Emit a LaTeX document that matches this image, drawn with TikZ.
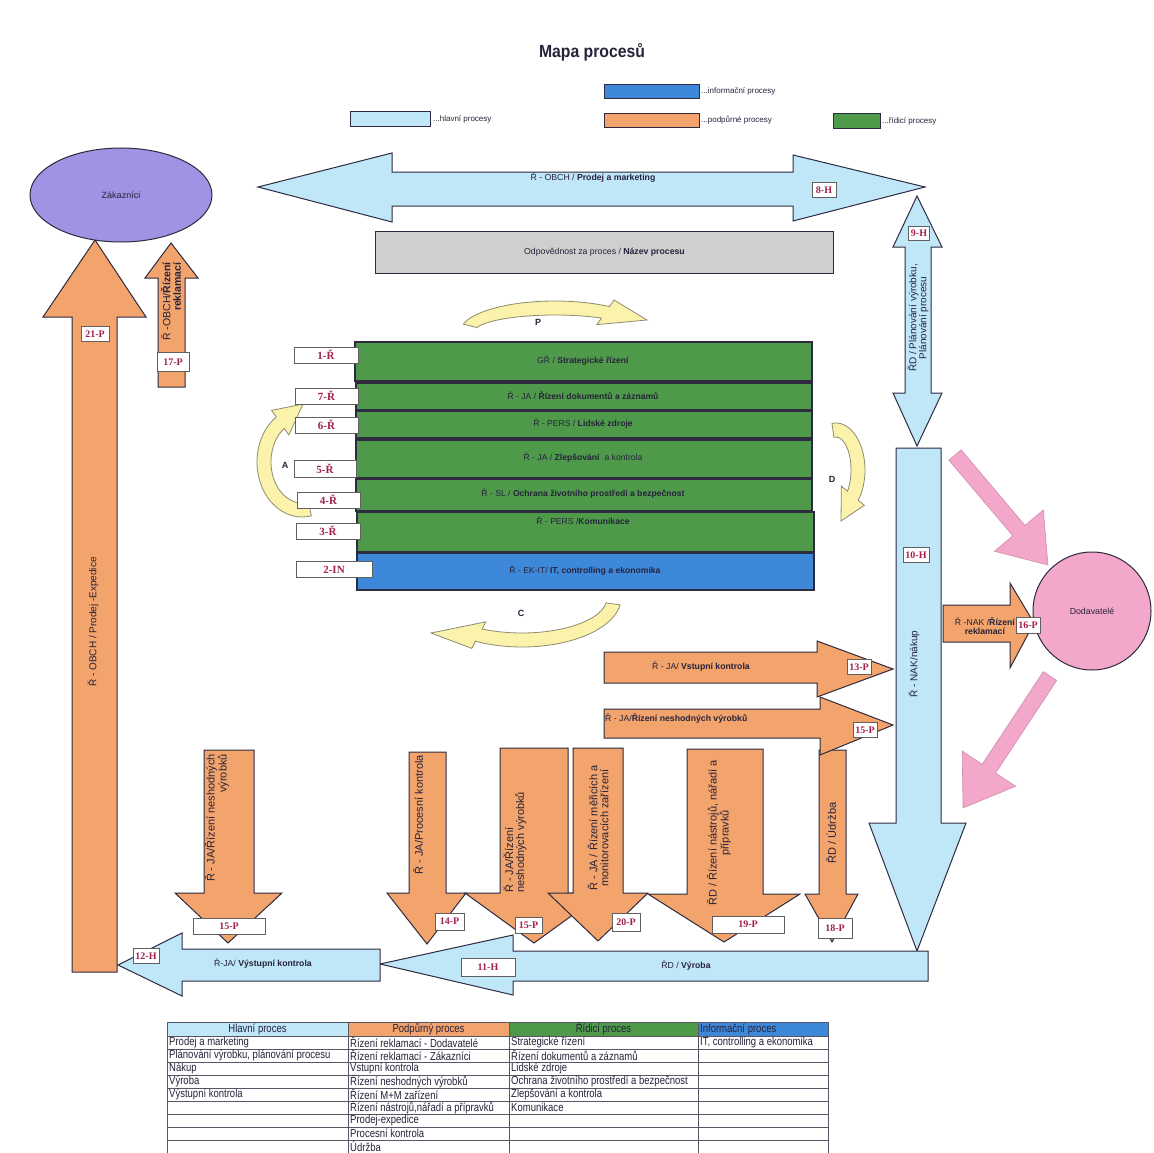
\documentclass[tikz,border=0pt]{standalone}
\usepackage{fontspec}
\setmainfont{Liberation Sans}
\newfontfamily\nar{Liberation Sans}[FakeStretch=0.9]
\newfontfamily\narr{Liberation Sans}[FakeStretch=0.82]
\newfontfamily\labserif{Liberation Serif}
\usetikzlibrary{shapes.geometric}
\definecolor{hlblue}{HTML}{BFE7F7}
\definecolor{ppor}{HTML}{F2A46C}
\definecolor{rgreen}{HTML}{4E9A4A}
\definecolor{iblue}{HTML}{3E88DA}
\definecolor{gbar}{HTML}{CFCFCF}
\definecolor{lav}{HTML}{A093E4}
\definecolor{pinkc}{HTML}{F2A7CB}
\definecolor{edge}{HTML}{2E2A40}
\definecolor{labred}{HTML}{A21F4E}
\definecolor{cycfill}{HTML}{FBF2AC}
\definecolor{cycedge}{HTML}{8E8B70}
\definecolor{ink}{HTML}{26223A}
\newcommand\fsz[1]{\fontsize{#1}{#1}\selectfont}
\def\cAw{7}
\def\cAhw{15}
\newcommand{\cArrow}[8]{%
 \pgfmathsetmacro\cAxo{#3+\cAw}\pgfmathsetmacro\cAyo{#4+\cAw}%
 \pgfmathsetmacro\cAxi{#3-\cAw}\pgfmathsetmacro\cAyi{#4-\cAw}%
 \filldraw[cyc] ({#1+\cAxo*cos(#5)},{#2+\cAyo*sin(#5)})
   arc[start angle=#5, end angle=#6, x radius=\cAxo, y radius=\cAyo]
   -- ({#1+(#3+\cAhw)*cos(#6)},{#2+(#4+\cAhw)*sin(#6)})
   -- (#7,#8)
   -- ({#1+(#3-\cAhw)*cos(#6)},{#2+(#4-\cAhw)*sin(#6)})
   -- ({#1+\cAxi*cos(#6)},{#2+\cAyi*sin(#6)})
   arc[start angle=#6, end angle=#5, x radius=\cAxi, y radius=\cAyi]
   -- cycle;}
\tikzset{
 shp/.style={draw=edge, line width=1pt, line join=miter},
 hl/.style={shp, fill=hlblue},
 pp/.style={shp, fill=ppor},
 rz/.style={draw=edge, line width=1.6pt, fill=rgreen},
 inf/.style={draw=edge, line width=1.6pt, fill=iblue},
 pk/.style={fill=pinkc, draw=pinkc!85!black, line width=0.6pt},
 cyc/.style={fill=cycfill, draw=cycedge, line width=0.8pt},
 lab/.style={draw=gray!75!black, line width=0.6pt, fill=white, text=labred, font=\labserif\bfseries\fsz{10}, inner sep=0pt, minimum height=15pt},
 blab/.style={lab, font=\labserif\bfseries\fsz{11}, minimum height=16pt},
 txt/.style={font=\fsz{8.7}, text=ink, inner sep=0pt},
 bartxt/.style={font=\fsz{8.6}, text=ink, inner sep=0pt},
 vtxt/.style={font=\fsz{10}, text=ink, inner sep=0pt, rotate=90},
 dtxt/.style={vtxt, font=\fsz{11}},
 legbox/.style={shp, inner sep=0pt, anchor=north west},
 legtxt/.style={font=\fsz{8}, text=ink, anchor=west, inner sep=0pt},
 cyclab/.style={font=\bfseries\fsz{9}, text=ink, inner sep=0pt},
 tabtxt/.style={font=\narr\fsz{11.6}, text=ink, anchor=west, inner sep=0pt},
 tabhead/.style={font=\narr\fsz{11.6}, text=ink, inner sep=0pt},
 grid/.style={draw=edge!80, line width=0.7pt},
}
\begin{document}
\begin{tikzpicture}[x=1pt,y=-1pt]
\useasboundingbox (0,0) rectangle (1154,1153);
\fill[white] (0,0) rectangle (1154,1153);

% ---------- title and legend
\node[font=\nar\bfseries\fsz{17.5}, text=ink] (title) at (592,52) {Mapa procesů};
\node[legbox, fill=hlblue, minimum width=80pt, minimum height=15pt] (lg1) at (350,111) {};
\node[legtxt] (lgt1) at ([xshift=2pt]lg1.east) {...hlavní procesy};
\node[legbox, fill=iblue, minimum width=95pt, minimum height=14pt] (lg2) at (604,84) {};
\node[legtxt] (lgt2) at ([xshift=1pt]lg2.east) {...informační procesy};
\node[legbox, fill=ppor, minimum width=95pt, minimum height=14pt] (lg3) at (604,113) {};
\node[legtxt] (lgt3) at ([xshift=1pt]lg3.east) {...podpůrné procesy};
\node[legbox, fill=rgreen, minimum width=47pt, minimum height=15pt] (lg4) at (833,113) {};
\node[legtxt] (lgt4) at ([xshift=1pt]lg4.east) {...řídicí procesy};

% ---------- top double arrow 8-H
\draw[hl] (258,187) -- (392,153) -- (392,172) -- (793,172) -- (793,155) -- (925,187)
  -- (793,221) -- (793,206) -- (392,206) -- (392,222) -- cycle;
\node[txt] (t8) at (593,178) {Ř - OBCH / \textbf{Prodej a marketing}};

% ---------- grey bar
\node[shp, fill=gbar, minimum width=458pt, minimum height=42pt, inner sep=0pt, anchor=north west] (gray) at (375,231) {};
\node[txt] (tgray) at (gray.center) {Odpovědnost za proces / \textbf{Název procesu}};

% ---------- customers
\draw[pp] (95,240) -- (146,317) -- (117,317) -- (117,972) -- (72,972) -- (72,317) -- (43,317) -- cycle;
\node[vtxt] (t21) at (93,622) {Ř - OBCH / Prodej -Expedice};
\draw[pp] (171,243) -- (198,278) -- (185,278) -- (185,387) -- (158,387) -- (158,278) -- (145,278) -- cycle;
\node[vtxt, align=right, anchor=east, font=\fsz{10.5}] (t17) at (171,262) {Ř -OBCH/\textbf{Řízení}\\\textbf{reklamací}};
\node[ellipse, shp, fill=lav, minimum width=182pt, minimum height=94pt, inner sep=0pt, font=\fsz{9}, text=ink] (zak) at (121,195) {Zákazníci};

% ---------- PDCA arrows
\cArrow{555}{332}{88}{24}{195}{305}{647}{320}
\cArrow{302}{462}{38}{48}{78}{235}{303}{404}
\cArrow{836}{470}{22}{40}{262}{400}{841}{521}
\cArrow{522}{598}{92}{42}{8}{118}{431}{633}
\node[cyclab] (cP) at (538,322) {P};
\node[cyclab] (cA) at (285,465) {A};
\node[cyclab] (cD) at (832,479) {D};
\node[cyclab] (cC) at (521,613) {C};

% ---------- management bars
\draw[rz] (355,342) rectangle (812,381);
\draw[rz] (356,383) rectangle (812,410);
\draw[rz] (356,411) rectangle (812,438);
\draw[rz] (356,440) rectangle (812,478);
\draw[rz] (356,479) rectangle (812,511);
\draw[rz] (357,512) rectangle (814,552);
\draw[inf] (357,553) rectangle (814,590);
\node[bartxt] (b1) at (583,361) {GŘ / \textbf{Strategické řízení}};
\node[bartxt] (b7) at (583,396) {Ř - JA / \textbf{Řízení dokumentů a záznamů}};
\node[bartxt] (b6) at (583,424) {Ř - PERS / \textbf{Lidské zdroje}};
\node[bartxt] (b5) at (583,458) {Ř - JA / \textbf{Zlepšování}\ \ a kontrola};
\node[bartxt] (b4) at (583,494) {Ř - SL / \textbf{Ochrana životního prostředí a bezpečnost}};
\node[bartxt] (b3) at (583,521) {Ř - PERS /\textbf{Komunikace}};
\node[bartxt] (b2) at (585,571) {Ř - EK-IT/ \textbf{IT, controlling a ekonomika}};
\node[blab, minimum width=64pt] (l1) at (326,355) {1-Ř};
\node[blab, minimum width=63pt] (l7) at (326.5,396) {7-Ř};
\node[blab, minimum width=63pt] (l6) at (326.5,425) {6-Ř};
\node[blab, minimum width=62pt, minimum height=17pt] (l5) at (325,468.5) {5-Ř};
\node[blab, minimum width=63pt] (l4) at (328.5,500) {4-Ř};
\node[blab, minimum width=64pt] (l3) at (328,531) {3-Ř};
\node[blab, minimum width=76pt] (l2) at (334,569.5) {2-IN};

% ---------- right column
\draw[hl] (917,196) -- (942,247) -- (931,247) -- (931,393) -- (942,393) -- (917,446)
  -- (893,393) -- (905,393) -- (905,247) -- (893,247) -- cycle;
\node[vtxt, align=center] (t9) at (918,318) {ŘD / Plánování výrobku,\\Plánování procesu};
\draw[hl] (896,448) -- (941,448) -- (941,823) -- (966,823) -- (917,951) -- (869,823) -- (896,823) -- cycle;
\node[vtxt] (t10) at (914,664) {Ř - NAK/nákup};

% ---------- bottom down arrows
\draw[pp] (204,750) -- (254,750) -- (254,893) -- (282,893) -- (228,943) -- (175,893) -- (204,893) -- cycle;
\node[dtxt, align=right, anchor=east] (ta) at (217,754) {Ř - JA/Řízení neshodných\\výrobků};
\draw[pp] (409,752) -- (446,752) -- (446,893) -- (466,893) -- (427,944) -- (387,893) -- (409,893) -- cycle;
\node[dtxt, anchor=east] (tb) at (418,755) {Ř - JA/Procesní kontrola};
\draw[pp] (500,748) -- (568,748) -- (568,893) -- (603,893) -- (534,943) -- (465,893) -- (500,893) -- cycle;
\node[dtxt, align=left, anchor=west] (tc) at (515,893) {Ř - JA/Řízení\\neshodných výrobků};
\draw[pp] (573,748) -- (623,748) -- (623,893) -- (648,893) -- (598,941) -- (548,893) -- (573,893) -- cycle;
\node[dtxt, align=center] (td) at (598,828) {Ř - JA / Řízení měřicích a\\monitorovacích zařízení};
\draw[pp] (687,749) -- (763,749) -- (763,894) -- (800,894) -- (724,942) -- (648,894) -- (687,894) -- cycle;
\node[dtxt, align=center] (te) at (719,833) {ŘD / Řízení nástrojů, nářadí a\\přípravků};
\draw[pp] (819,750) -- (846,750) -- (846,894) -- (858,894) -- (832,942) -- (805,894) -- (819,894) -- cycle;
\node[dtxt] (tf) at (831,833) {ŘD / Údržba};

% ---------- horizontal support arrows
\draw[pp] (604,652) -- (817,652) -- (817,641) -- (893,669) -- (817,697) -- (817,683) -- (604,683) -- cycle;
\node[txt] (t13) at (701,667) {Ř - JA/ \textbf{Vstupní kontrola}};
\draw[pp] (604,709) -- (820,709) -- (820,697) -- (893,725) -- (820,755) -- (820,738) -- (604,738) -- cycle;
\node[txt, anchor=west] (t15) at (605,718) {Ř - JA/\textbf{Řízení neshodných výrobků}};

% ---------- suppliers
\draw[pp] (943,605) -- (1010,605) -- (1010,583) -- (1034,623) -- (1010,668) -- (1010,642) -- (943,642) -- cycle;
\node[circle, shp, fill=pinkc, minimum size=118pt, inner sep=0pt, font=\fsz{8.8}, text=ink] (dod) at (1092,611) {Dodavatelé};
\node[txt, align=center] (t16) at (985,626) {Ř -NAK /\textbf{Řízení}\\\textbf{reklamací}};
\begin{scope}[shift={(955,455)}, rotate=-49.8]
\filldraw[pk] (0,-8) -- (99,-8) -- (99,-32) -- (144,0) -- (99,32) -- (99,8) -- (0,8) -- cycle;
\end{scope}
\begin{scope}[shift={(1050,676)}, rotate=-123.4]
\filldraw[pk] (0,-8) -- (111,-8) -- (111,-32) -- (158,0) -- (111,32) -- (111,8) -- (0,8) -- cycle;
\end{scope}

% ---------- bottom main arrows
\draw[hl] (380,964) -- (513,935) -- (513,951) -- (928,951) -- (928,981) -- (513,981) -- (513,995) -- cycle;
\node[txt] (t11) at (686,966) {ŘD / \textbf{Výroba}};
\draw[hl] (118,965) -- (182,933) -- (182,949) -- (380,949) -- (380,981) -- (182,981) -- (182,996) -- cycle;
\node[txt] (t12) at (263,964) {Ř-JA/ \textbf{Výstupní kontrola}};

% ---------- number labels
\node[lab, minimum width=24pt] (l8) at (824,190) {8-H};
\node[lab, minimum width=21pt, minimum height=14pt] (l9) at (919,233) {9-H};
\node[lab, minimum width=26pt] (l10) at (916,555) {10-H};
\node[lab, minimum width=28pt] (l21) at (95,334) {21-P};
\node[lab, minimum width=32pt, minimum height=19pt] (l17) at (173,362) {17-P};
\node[lab, minimum width=24pt] (l13) at (859,667) {13-P};
\node[lab, minimum width=24pt] (l15a) at (865,730) {15-P};
\node[lab, minimum width=24pt, minimum height=16pt] (l16) at (1028,625) {16-P};
\node[lab, minimum width=72pt, minimum height=16pt] (l15b) at (229,926) {15-P};
\node[lab, minimum width=29pt, minimum height=17pt] (l14) at (449.5,921.5) {14-P};
\node[lab, minimum width=27pt, minimum height=16pt] (l15c) at (528.5,925) {15-P};
\node[lab, minimum width=28pt, minimum height=18pt] (l20) at (626,922) {20-P};
\node[lab, minimum width=72pt, minimum height=17pt] (l19) at (748,924.5) {19-P};
\node[lab, minimum width=34pt, minimum height=20pt] (l18) at (835,928) {18-P};
\node[lab, minimum width=54pt, minimum height=18pt] (l11) at (488,967) {11-H};
\node[lab, minimum width=26pt] (l12) at (146,956) {12-H};

% ---------- table
\fill[hlblue] (167,1022) rectangle (348,1036);
\fill[ppor] (348,1022) rectangle (509,1036);
\fill[rgreen] (509,1022) rectangle (698,1036);
\fill[iblue] (698,1022) rectangle (828,1036);
\foreach \y in {1022,1036,1049,1062,1075,1088,1101,1114,1127,1140}
  \draw[grid] (167,\y) -- (828,\y);
\foreach \x in {167,348,509,698,828}
  \draw[grid] (\x,1022) -- (\x,1153);
\node[tabhead] (th1) at (257.5,1029) {Hlavní proces};
\node[tabhead] (th2) at (428.5,1029) {Podpůrný proces};
\node[tabhead] (th3) at (603.5,1029) {Řídicí proces};
\node[tabhead, anchor=west] (th4) at (700,1029) {Informační proces};
\foreach \t [count=\i] in {Prodej a marketing, {Plánování výrobku, plánování procesu}, Nákup, Výroba, Výstupní kontrola}
  \node[tabtxt] (ta\i) at (169,{1042.5+13*(\i-1)}) {\t};
\foreach \t [count=\i] in {Řízení reklamací - Dodavatelé, Řízení reklamací - Zákazníci, Vstupní kontrola, Řízení neshodných výrobků, Řízení M+M zařízení, {Řízení nástrojů,nářadí a přípravků}, Prodej-expedice, Procesní kontrola, Údržba}
  \node[tabtxt] (tp\i) at (350,{1042.5+13*(\i-1)}) {\t};
\foreach \t [count=\i] in {Strategické řízení, Řízení dokumentů a záznamů, Lidské zdroje, Ochrana životního prostředí a bezpečnost, Zlepšování a kontrola, Komunikace}
  \node[tabtxt] (tr\i) at (511,{1042.5+13*(\i-1)}) {\t};
\node[tabtxt] (ti1) at (700,1042.5) {IT, controlling a ekonomika};
\end{tikzpicture}
\end{document}
